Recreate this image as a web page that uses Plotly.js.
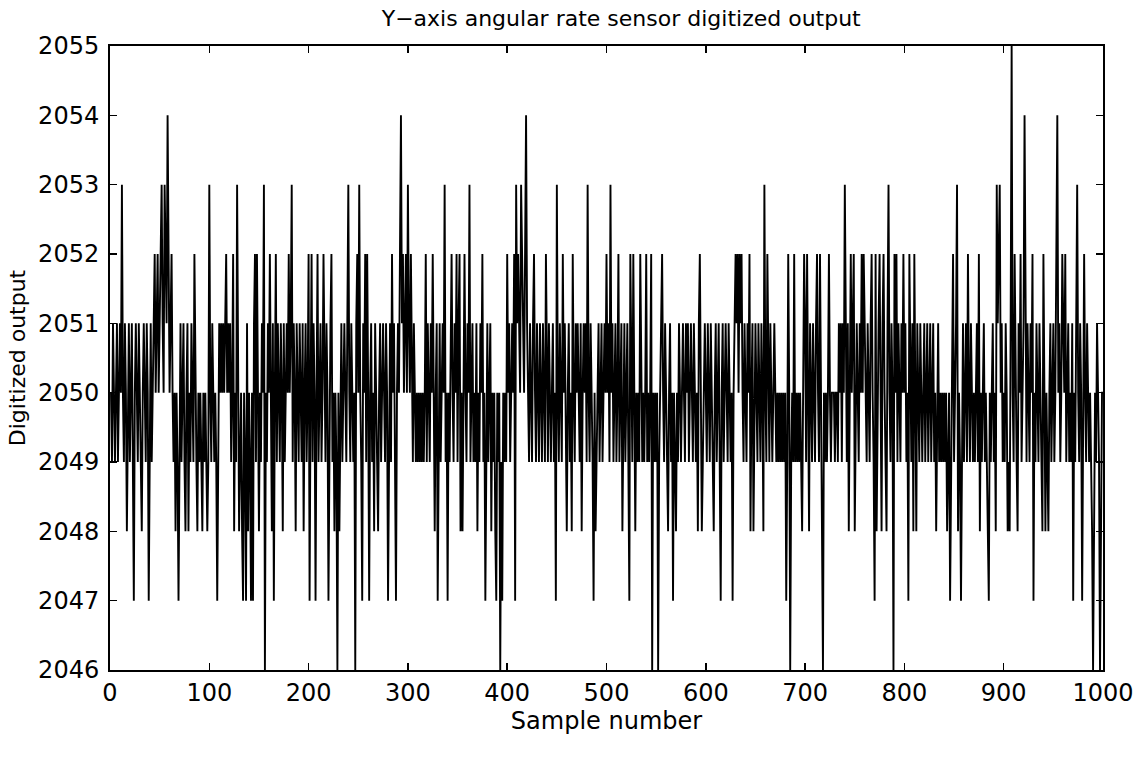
<!DOCTYPE html>
<html>
<head>
<meta charset="utf-8">
<script src="https://cdn.plot.ly/plotly-3.0.1.min.js"></script>
<style>html,body{margin:0;padding:0;background:#fff;}#chart{width:1142px;height:758px;}</style>
</head>
<body>
<div id="chart"></div>
<script>
// Digitized output, samples 1-100 ... 901-1000
var seg01 = [2050,2049,2051,2050,2049,2050,2051,2049,2050,2051, 2050,2053,2050,2049,2051,2050,2048,2050,2051,2049,
             2050,2051,2049,2047,2050,2051,2050,2049,2051,2050, 2049,2048,2050,2051,2050,2049,2051,2050,2047,2050,
             2051,2049,2050,2051,2052,2050,2051,2052,2050,2051, 2052,2053,2051,2050,2053,2052,2051,2054,2052,2050,
             2051,2052,2050,2049,2050,2048,2050,2049,2047,2050, 2051,2049,2050,2051,2049,2048,2050,2051,2048,2050,
             2049,2051,2050,2049,2052,2050,2049,2048,2050,2049, 2050,2049,2048,2050,2049,2050,2049,2048,2049,2053];
var seg02 = [2050,2049,2051,2050,2049,2050,2049,2047,2050,2051, 2050,2051,2050,2051,2050,2051,2052,2050,2051,2050,
             2051,2049,2050,2052,2048,2050,2049,2053,2050,2048, 2049,2050,2048,2047,2050,2049,2047,2051,2048,2050,
             2049,2047,2050,2047,2051,2052,2049,2052,2050,2048, 2050,2049,2051,2050,2053,2046,2050,2049,2051,2050,
             2052,2050,2048,2051,2047,2050,2052,2049,2051,2050, 2049,2051,2050,2048,2051,2049,2050,2051,2050,2052,
             2050,2051,2053,2049,2051,2050,2048,2051,2050,2049, 2051,2050,2049,2051,2048,2050,2051,2049,2050,2052];
var seg03 = [2047,2050,2052,2049,2051,2050,2047,2050,2052,2049, 2050,2051,2049,2050,2052,2050,2049,2051,2050,2047,
             2050,2051,2052,2049,2050,2048,2050,2049,2046,2050, 2048,2050,2051,2049,2050,2051,2050,2049,2051,2053,
             2050,2049,2051,2050,2049,2050,2046,2051,2052,2050, 2053,2050,2049,2047,2051,2050,2052,2049,2052,2050,
             2047,2050,2051,2049,2050,2048,2051,2050,2049,2048, 2050,2051,2049,2050,2051,2050,2049,2051,2050,2047,
             2050,2051,2049,2052,2050,2051,2049,2047,2050,2051, 2050,2052,2054,2051,2052,2050,2051,2052,2050,2053];
var seg04 = [2051,2050,2052,2050,2049,2051,2050,2049,2050,2049, 2050,2049,2050,2049,2050,2049,2050,2052,2049,2051,
             2050,2049,2051,2050,2052,2049,2048,2050,2051,2047, 2050,2051,2049,2050,2051,2050,2053,2049,2050,2047,
             2050,2049,2051,2052,2050,2049,2051,2050,2052,2049, 2051,2052,2048,2050,2048,2051,2052,2050,2049,2051,
             2050,2053,2049,2050,2051,2049,2050,2049,2051,2048, 2050,2049,2051,2050,2052,2049,2050,2047,2050,2051,
             2049,2050,2051,2048,2050,2049,2050,2048,2047,2050, 2049,2050,2046,2049,2047,2050,2049,2050,2049,2052];
var seg05 = [2050,2051,2049,2050,2051,2050,2052,2047,2053,2051, 2052,2051,2050,2053,2052,2051,2050,2052,2054,2051,
             2050,2049,2051,2050,2049,2051,2052,2050,2049,2051, 2050,2049,2051,2050,2049,2051,2050,2049,2052,2050,
             2049,2051,2050,2049,2050,2051,2049,2050,2047,2053, 2050,2049,2051,2050,2049,2052,2050,2051,2049,2048,
             2050,2051,2049,2050,2048,2052,2050,2049,2051,2050, 2051,2050,2049,2051,2048,2050,2051,2050,2051,2049,
             2053,2050,2049,2051,2050,2049,2047,2050,2048,2049, 2050,2051,2049,2050,2051,2049,2050,2051,2050,2052];
var seg06 = [2050,2051,2049,2053,2050,2051,2049,2050,2051,2049, 2050,2052,2049,2050,2051,2048,2050,2051,2049,2050,
             2051,2049,2047,2052,2050,2049,2052,2050,2048,2050, 2049,2050,2049,2052,2050,2049,2050,2049,2050,2052,
             2049,2050,2049,2050,2052,2046,2050,2049,2050,2049, 2050,2046,2049,2050,2051,2052,2050,2049,2051,2050,
             2049,2048,2050,2051,2049,2050,2047,2050,2049,2048, 2050,2049,2051,2050,2049,2050,2051,2050,2049,2051,
             2050,2051,2049,2050,2051,2050,2049,2051,2050,2049, 2050,2048,2051,2052,2050,2048,2049,2050,2051,2050];
var seg07 = [2049,2051,2050,2049,2051,2050,2049,2048,2050,2051, 2049,2050,2051,2049,2047,2050,2051,2049,2050,2051,
             2050,2049,2051,2050,2049,2050,2047,2050,2051,2052, 2051,2052,2050,2052,2051,2052,2050,2049,2051,2050,
             2049,2051,2050,2052,2048,2050,2051,2048,2050,2051, 2050,2049,2051,2050,2049,2051,2050,2048,2053,2050,
             2049,2052,2050,2049,2051,2050,2049,2050,2051,2050, 2049,2050,2049,2050,2049,2050,2049,2050,2049,2050,
             2047,2049,2052,2050,2046,2049,2050,2049,2052,2049, 2050,2049,2050,2049,2050,2049,2048,2050,2052,2051];
var seg08 = [2049,2052,2050,2048,2051,2050,2049,2051,2050,2049, 2051,2052,2050,2049,2052,2050,2049,2046,2050,2049,
             2050,2049,2050,2052,2050,2049,2050,2050,2050,2049, 2050,2050,2049,2051,2050,2051,2049,2051,2050,2053,
             2050,2049,2051,2048,2050,2052,2050,2051,2052,2048, 2050,2051,2050,2049,2051,2050,2052,2050,2052,2051,
             2050,2049,2051,2050,2049,2051,2052,2050,2049,2047, 2052,2048,2050,2051,2052,2050,2048,2051,2052,2050,
             2049,2048,2051,2053,2050,2049,2051,2050,2046,2052, 2050,2052,2049,2051,2050,2049,2051,2050,2052,2050];
var seg09 = [2051,2049,2050,2047,2052,2050,2049,2051,2048,2052, 2050,2048,2051,2050,2049,2051,2050,2049,2050,2051,
             2049,2050,2051,2049,2050,2051,2049,2050,2051,2049, 2050,2048,2050,2051,2049,2050,2049,2050,2049,2050,
             2049,2050,2048,2049,2050,2047,2049,2050,2052,2049, 2050,2051,2053,2048,2050,2049,2047,2050,2051,2049,
             2050,2051,2049,2052,2050,2049,2051,2050,2049,2050, 2049,2050,2051,2049,2052,2048,2050,2049,2050,2051,
             2049,2050,2049,2048,2047,2050,2049,2050,2051,2049, 2050,2048,2053,2051,2052,2053,2050,2051,2049,2050];
var seg10 = [2049,2051,2050,2048,2049,2048,2051,2055,2050,2049, 2052,2050,2049,2048,2051,2050,2052,2049,2050,2051,
             2054,2050,2049,2051,2050,2049,2051,2050,2052,2047, 2050,2049,2051,2050,2049,2051,2050,2049,2048,2052,
             2049,2048,2050,2049,2048,2050,2051,2049,2050,2051, 2049,2050,2052,2054,2050,2051,2049,2050,2052,2051,
             2050,2052,2049,2050,2051,2049,2050,2049,2051,2047, 2050,2049,2051,2053,2050,2049,2051,2050,2047,2049,
             2052,2050,2049,2051,2050,2049,2050,2049,2048,2046, 2049,2050,2049,2051,2050,2049,2046,2049,2050,2050];

var xTickVals = [0,100,200,300,400,500,600,700,800,900,1000];
var yTickVals = [2046,2047,2048,2049,2050,2051,2052,2053,2054,2055];

var titleText = "Y\u2212axis angular rate sensor digitized output";
var xTitle = "Sample number";
var yTitle = "Digitized output";

var output = [].concat(seg01, seg02, seg03, seg04, seg05, seg06, seg07, seg08, seg09, seg10);

var FONT = "DejaVu Sans, Liberation Sans, Arial, sans-serif";

var trace = {
  type: "scatter",
  mode: "lines",
  y: output,
  x0: 1,
  dx: 1,
  line: {color: "#000", width: 1.9},
  hoverinfo: "x+y"
};

var axisCommon = {
  showline: true,
  linecolor: "#000",
  linewidth: 2,
  mirror: "ticks",
  ticks: "inside",
  ticklen: 7,
  tickwidth: 1.5,
  tickcolor: "#000",
  showgrid: false,
  zeroline: false,
  tickfont: {family: FONT, size: 24, color: "#000"}
};

var layout = {
  width: 1142,
  height: 758,
  paper_bgcolor: "#fff",
  plot_bgcolor: "#fff",
  showlegend: false,
  margin: {l: 110, r: 39, t: 46, b: 88},
  title: {
    text: titleText,
    font: {family: FONT, size: 22, color: "#000"},
    xref: "container", x: 0.544, xanchor: "center",
    yref: "container", y: 0.976, yanchor: "middle"
  },
  xaxis: Object.assign({}, axisCommon, {
    range: [0, 1000],
    tickvals: xTickVals,
    ticktext: xTickVals.map(String),
    title: {text: xTitle, font: {family: FONT, size: 24, color: "#000"}, standoff: 2}
  }),
  yaxis: Object.assign({}, axisCommon, {
    range: [2046, 2055],
    tickvals: yTickVals,
    ticktext: yTickVals.map(String),
    ticklabelstandoff: 4,
    title: {text: yTitle, font: {family: FONT, size: 22, color: "#000"}, standoff: 6}
  })
};

Plotly.newPlot("chart", [trace], layout, {displayModeBar: false, staticPlot: true});
</script>
</body>
</html>
